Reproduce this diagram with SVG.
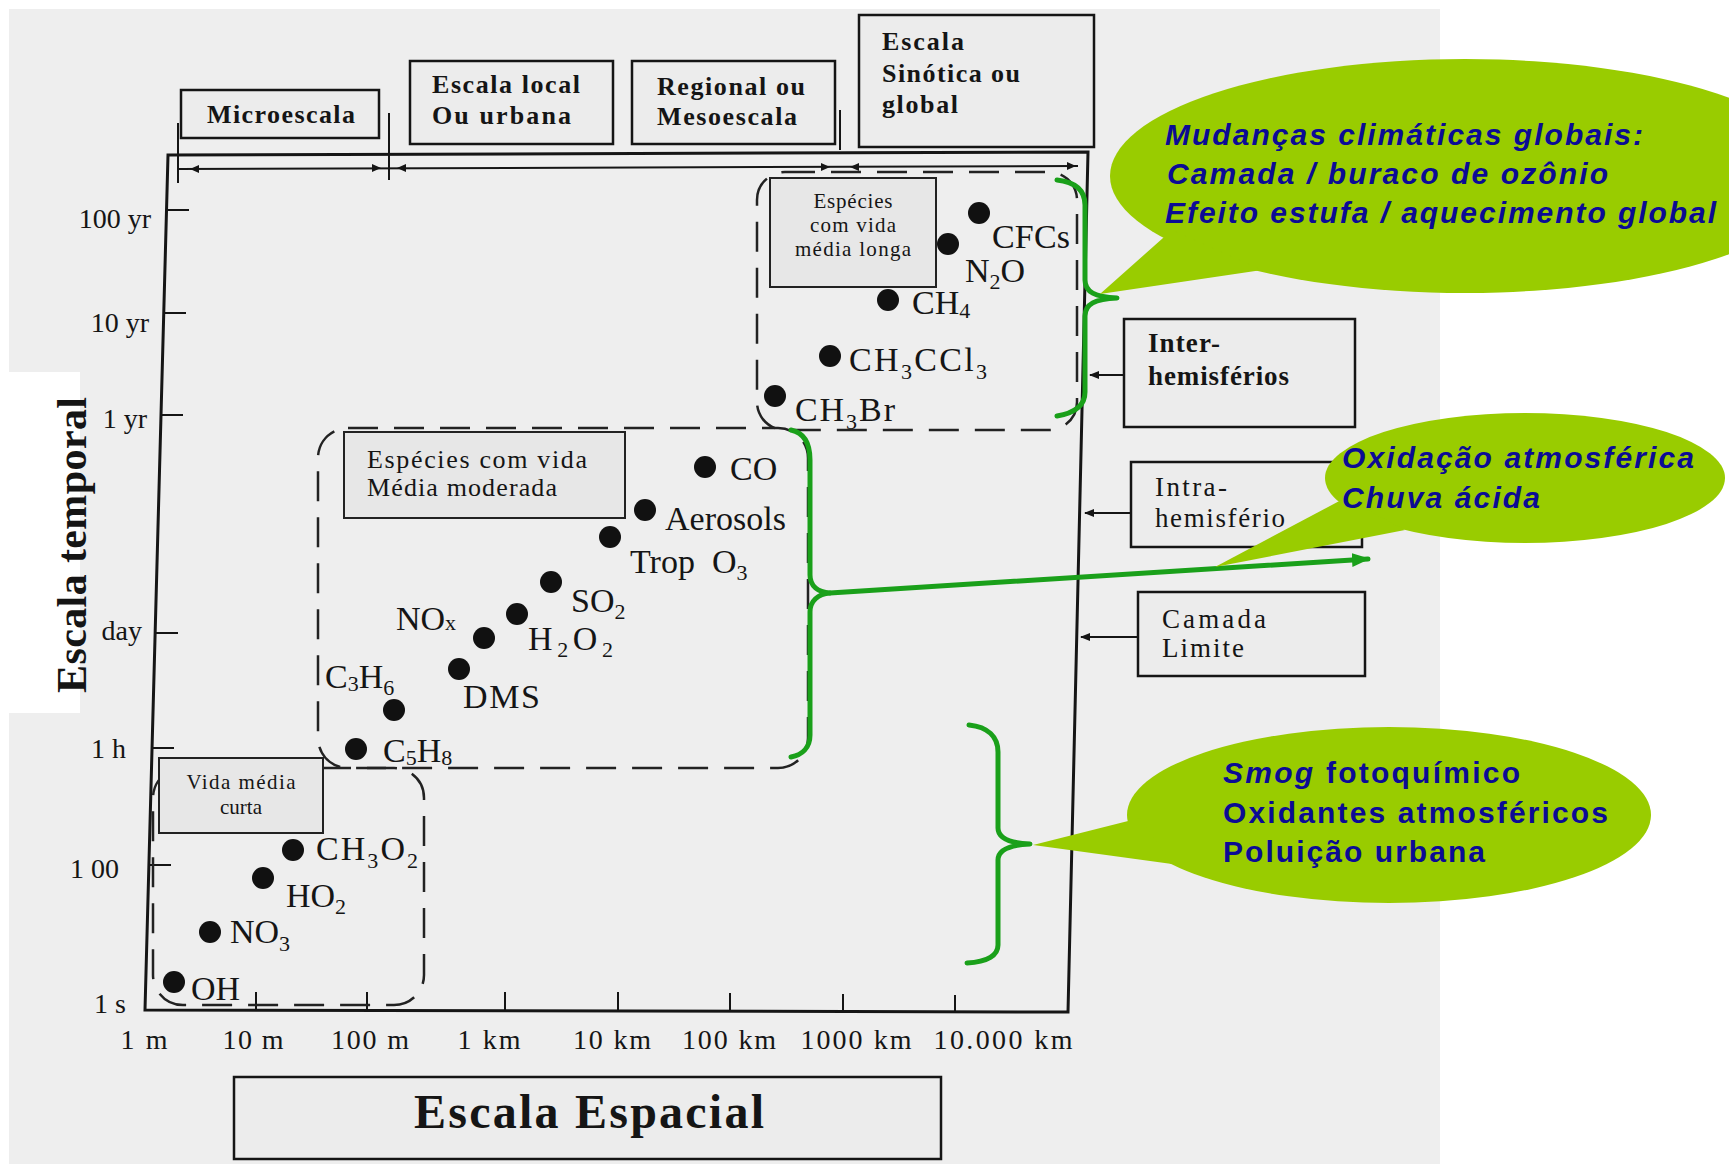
<svg xmlns="http://www.w3.org/2000/svg" width="1729" height="1164" viewBox="0 0 1729 1164">
<defs>
<style>
.frame{fill:none;stroke:#151515;stroke-width:3}
.thin{fill:none;stroke:#151515;stroke-width:2}
.box{fill:#ececec;stroke:#151515;stroke-width:2.5}
.lbox{fill:#e7e7e7;stroke:#222;stroke-width:2}
.dash{fill:none;stroke:#222;stroke-width:2.5;stroke-dasharray:30 16}
.dot{fill:#111}
.sp{font-family:"Liberation Serif","DejaVu Serif",serif;font-size:34px;fill:#151515}
.sub{font-size:22px}
.tk{font-family:"Liberation Serif","DejaVu Serif",serif;font-size:28px;fill:#151515}
.hd{font-family:"Liberation Serif","DejaVu Serif",serif;font-size:26px;font-weight:bold;fill:#151515}
.rb{font-family:"Liberation Serif","DejaVu Serif",serif;font-size:27px;fill:#151515}
.sm{font-family:"Liberation Serif","DejaVu Serif",serif;font-size:21px;fill:#151515}
.md{font-family:"Liberation Serif","DejaVu Serif",serif;font-size:26px;fill:#151515}
.big{font-family:"Liberation Serif","DejaVu Serif",serif;font-weight:bold;fill:#151515}
.br{fill:none;stroke:#1aa01a;stroke-width:5;stroke-linecap:round;stroke-linejoin:round}
.bub{fill:#99cc00}
.bt{font-family:"Liberation Sans",Arial,sans-serif;font-size:30px;font-weight:bold;fill:#0b0b95}
.it{font-style:italic}
</style>
<marker id="ak" viewBox="0 0 10 8" refX="9" refY="4" markerWidth="10" markerHeight="8" markerUnits="userSpaceOnUse" orient="auto">
<path d="M0,0 L10,4 L0,8 z" fill="#151515"/>
</marker>
<marker id="ag" viewBox="0 0 18 14" refX="16" refY="7" markerWidth="18" markerHeight="14" markerUnits="userSpaceOnUse" orient="auto">
<path d="M0,0 L18,7 L0,14 z" fill="#1aa01a"/>
</marker>
</defs>

<!-- background -->
<rect x="0" y="0" width="1729" height="1164" fill="#ffffff"/>
<rect x="9" y="9" width="1431" height="1155" fill="#eeeeee"/>
<rect x="0" y="372" width="80" height="341" fill="#ffffff"/>

<!-- frame and axes -->
<g id="axes">
<path class="frame" d="M168,155 L1088,152 L1068,1012 L145,1010 Z"/>
<path class="thin" d="M178,169 L1078,166"/>
<path d="M190,169 l9,-4 l0,8 z M381,168 l-9,-4 l0,8 z M397,168 l9,-4 l0,8 z M830,167 l-9,-4 l0,8 z M850,167 l9,-4 l0,8 z M1076,166 l-9,-4 l0,8 z" fill="#151515"/>
<path class="thin" d="M178,123 L178,183 M389,113 L389,180 M840,110 L840,150"/>
<path class="thin" d="M166.5,210 L189,210 M163.7,313 L186,313 M161,415 L183,415 M155,633 L178,633 M152,748 L174,748 M149,865 L171,865"/>
<path class="thin" d="M256,992 L256,1010 M367,992 L367,1010 M505,992 L505,1011 M618,992 L618,1011 M730,993 L730,1011 M843,994 L843,1011 M955,995 L955,1011"/>
<text class="tk" x="151" y="228" text-anchor="end">100 yr</text>
<text class="tk" x="149" y="332" text-anchor="end">10 yr</text>
<text class="tk" x="147" y="428" text-anchor="end">1 yr</text>
<text class="tk" x="142" y="640" text-anchor="end">day</text>
<text class="tk" x="126" y="758" text-anchor="end">1 h</text>
<text class="tk" x="119" y="878" text-anchor="end">1 00</text>
<text class="tk" x="126" y="1013" text-anchor="end">1 s</text>
<text class="tk" x="144" y="1049" text-anchor="middle" textLength="47">1 m</text>
<text class="tk" x="253" y="1049" text-anchor="middle" textLength="61">10 m</text>
<text class="tk" x="370" y="1049" text-anchor="middle" textLength="78">100 m</text>
<text class="tk" x="489" y="1049" text-anchor="middle" textLength="63">1 km</text>
<text class="tk" x="612" y="1049" text-anchor="middle" textLength="78">10 km</text>
<text class="tk" x="729" y="1049" text-anchor="middle" textLength="94">100 km</text>
<text class="tk" x="856" y="1049" text-anchor="middle" textLength="111">1000 km</text>
<text class="tk" x="1003" y="1049" text-anchor="middle" textLength="139">10.000 km</text>
<text class="big" font-size="42" text-anchor="middle" transform="translate(86,545) rotate(-90)" textLength="296">Escala temporal</text>
</g>

<!-- scale boxes -->
<g id="microescala">
<rect class="box" x="181" y="90" width="198" height="48" stroke-width="3"/>
<text class="hd" x="281" y="123" text-anchor="middle" textLength="148">Microescala</text>
</g>
<g id="escala-local">
<rect class="box" x="410" y="61" width="203" height="83"/>
<text class="hd" x="432" y="93" textLength="148">Escala local</text>
<text class="hd" x="432" y="124" textLength="139">Ou urbana</text>
</g>
<g id="regional">
<rect class="box" x="632" y="61" width="203" height="83"/>
<text class="hd" x="657" y="95" textLength="148">Regional ou</text>
<text class="hd" x="657" y="125" textLength="140">Mesoescala</text>
</g>
<g id="sinotica">
<rect class="box" x="859" y="15" width="235" height="132"/>
<text class="hd" x="882" y="50" textLength="82">Escala</text>
<text class="hd" x="882" y="82" textLength="138">Sinótica ou</text>
<text class="hd" x="882" y="113" textLength="76">global</text>
</g>
<g id="escala-espacial">
<rect class="box" x="234" y="1077" width="707" height="82"/>
<text class="big" font-size="48" x="589" y="1128" text-anchor="middle" textLength="350">Escala Espacial</text>
</g>

<!-- species regions -->
<g id="regiao-longa">
<rect class="dash" x="757" y="172" width="320" height="258" rx="28"/>
<rect class="lbox" x="770" y="178" width="166" height="109"/>
<text class="sm" x="853" y="208" text-anchor="middle" textLength="79">Espécies</text>
<text class="sm" x="853" y="232" text-anchor="middle" textLength="86">com vida</text>
<text class="sm" x="853" y="256" text-anchor="middle" textLength="116">média longa</text>
</g>
<g id="regiao-moderada">
<rect class="dash" x="318" y="428" width="490" height="340" rx="30"/>
<rect class="lbox" x="344" y="432" width="281" height="86"/>
<text class="md" x="367" y="468" textLength="220">Espécies com vida</text>
<text class="md" x="367" y="496" textLength="190">Média moderada</text>
</g>
<g id="regiao-curta">
<rect class="dash" x="153" y="768" width="271" height="237" rx="30"/>
<rect class="lbox" x="159" y="758" width="164" height="75"/>
<text class="sm" x="241" y="789" text-anchor="middle" textLength="109">Vida média</text>
<text class="sm" x="241" y="814" text-anchor="middle">curta</text>
</g>

<!-- species dots and labels -->
<g id="especies">
<circle class="dot" cx="979" cy="213" r="11"/>
<text class="sp" x="992" y="248" textLength="78">CFCs</text>
<circle class="dot" cx="948" cy="244" r="11"/>
<text class="sp" x="965" y="282">N<tspan class="sub" dy="7">2</tspan><tspan dy="-7">O</tspan></text>
<circle class="dot" cx="888" cy="300" r="11"/>
<text class="sp" x="912" y="314">CH<tspan class="sub" dy="4">4</tspan></text>
<circle class="dot" cx="830" cy="356" r="11"/>
<text class="sp" x="849" y="371" textLength="138">CH<tspan class="sub" dy="8">3</tspan><tspan dy="-8">CCl</tspan><tspan class="sub" dy="8">3</tspan></text>
<circle class="dot" cx="775" cy="396" r="11"/>
<text class="sp" x="795" y="421" textLength="100">CH<tspan class="sub" dy="8">3</tspan><tspan dy="-8">Br</tspan></text>
<circle class="dot" cx="705" cy="467" r="11"/>
<text class="sp" x="730" y="480">CO</text>
<circle class="dot" cx="645" cy="510" r="11"/>
<text class="sp" x="665" y="530" textLength="121">Aerosols</text>
<circle class="dot" cx="610" cy="537" r="11"/>
<text class="sp" x="630" y="573">Trop<tspan x="712">O</tspan><tspan class="sub" dy="7">3</tspan></text>
<circle class="dot" cx="551" cy="582" r="11"/>
<text class="sp" x="571" y="612">SO<tspan class="sub" dy="7">2</tspan></text>
<circle class="dot" cx="517" cy="614" r="11"/>
<text class="sp" x="528" y="650" textLength="85">H<tspan class="sub" dy="7">2</tspan><tspan dy="-7">O</tspan><tspan class="sub" dy="7">2</tspan></text>
<circle class="dot" cx="484" cy="638" r="11"/>
<text class="sp" x="396" y="630">NO<tspan class="sub" dy="0" font-size="26">x</tspan></text>
<circle class="dot" cx="459" cy="669" r="11"/>
<text class="sp" x="463" y="708" textLength="77">DMS</text>
<circle class="dot" cx="394" cy="710" r="11"/>
<text class="sp" x="325" y="688">C<tspan class="sub" dy="3">3</tspan><tspan dy="-3">H</tspan><tspan class="sub" dy="7">6</tspan></text>
<circle class="dot" cx="356" cy="749" r="11"/>
<text class="sp" x="383" y="762">C<tspan class="sub" dy="3">5</tspan><tspan dy="-3">H</tspan><tspan class="sub" dy="3">8</tspan></text>
<circle class="dot" cx="293" cy="850" r="11"/>
<text class="sp" x="316" y="860" textLength="102">CH<tspan class="sub" dy="8">3</tspan><tspan dy="-8">O</tspan><tspan class="sub" dy="8">2</tspan></text>
<circle class="dot" cx="263" cy="878" r="11"/>
<text class="sp" x="286" y="907">HO<tspan class="sub" dy="7">2</tspan></text>
<circle class="dot" cx="210" cy="932" r="11"/>
<text class="sp" x="230" y="943">NO<tspan class="sub" dy="8">3</tspan></text>
<circle class="dot" cx="174" cy="982" r="11"/>
<text class="sp" x="191" y="1000">OH</text>
</g>

<!-- atmosphere boxes -->
<g id="inter-hemisferios">
<rect class="box" x="1124" y="319" width="231" height="108"/>
<text class="rb" font-weight="bold" x="1148" y="352" textLength="72">Inter-</text>
<text class="rb" font-weight="bold" x="1148" y="385" textLength="141">hemisférios</text>
</g>
<g id="intra-hemisferio">
<rect class="box" x="1131" y="462" width="231" height="85"/>
<text class="rb" x="1155" y="496" textLength="72">Intra-</text>
<text class="rb" x="1155" y="527" textLength="130">hemisfério</text>
</g>
<g id="camada-limite">
<rect class="box" x="1138" y="592" width="227" height="84"/>
<text class="rb" x="1162" y="628" textLength="104">Camada</text>
<text class="rb" x="1162" y="657" textLength="82">Limite</text>
</g>

<!-- connectors -->
<g id="connectors">
<path class="thin" d="M1124,375 L1090,375" stroke-width="3" marker-end="url(#ak)"/>
<path class="thin" d="M1131,513 L1085,513" stroke-width="3" marker-end="url(#ak)"/>
<path class="thin" d="M1138,637 L1081,637" stroke-width="3" marker-end="url(#ak)"/>
<path class="br" d="M1057,180 C1075,182 1085,190 1085,205 L1085,280 C1085,292 1095,297 1117,298 C1095,299 1085,304 1085,316 L1085,392 C1085,405 1075,413 1057,416"/>
<path class="br" d="M791,430 C805,433 810,445 810,460 L810,575 C810,586 818,592 830,593 C818,594 810,601 810,612 L810,735 C810,748 802,755 791,757"/>
<path class="br" d="M830,593 L1368,559" stroke-width="4" marker-end="url(#ag)"/>
<path class="br" d="M969,725 C988,727 998,737 998,752 L998,828 C998,838 1008,843 1030,844 C1008,845 998,850 998,860 L998,945 C998,955 988,962 967,963"/>
</g>

<!-- callout bubbles -->
<g id="bolha-global">
<ellipse class="bub" cx="1465" cy="176" rx="355" ry="117"/>
<polygon class="bub" points="1100,294 1172,230 1262,270"/>
<text class="bt it" x="1165" y="145" textLength="478">Mudanças climáticas globais:</text>
<text class="bt it" x="1167" y="184" textLength="441">Camada / buraco de ozônio</text>
<text class="bt it" x="1165" y="223" textLength="551">Efeito estufa / aquecimento global</text>
</g>
<g id="bolha-oxidacao">
<ellipse class="bub" cx="1525" cy="478" rx="200" ry="65"/>
<polygon class="bub" points="1215,567 1345,498 1405,530"/>
<text class="bt it" x="1342" y="468" textLength="352">Oxidação atmosférica</text>
<text class="bt it" x="1342" y="508" textLength="198">Chuva ácida</text>
</g>
<g id="bolha-smog">
<ellipse class="bub" cx="1389" cy="815" rx="262" ry="88"/>
<polygon class="bub" points="1033,845 1140,818 1172,864"/>
<text class="bt" x="1223" y="783" textLength="297"><tspan class="it">Smog</tspan> fotoquímico</text>
<text class="bt" x="1223" y="823" textLength="385">Oxidantes atmosféricos</text>
<text class="bt" x="1223" y="862" textLength="262">Poluição urbana</text>
</g>
</svg>
